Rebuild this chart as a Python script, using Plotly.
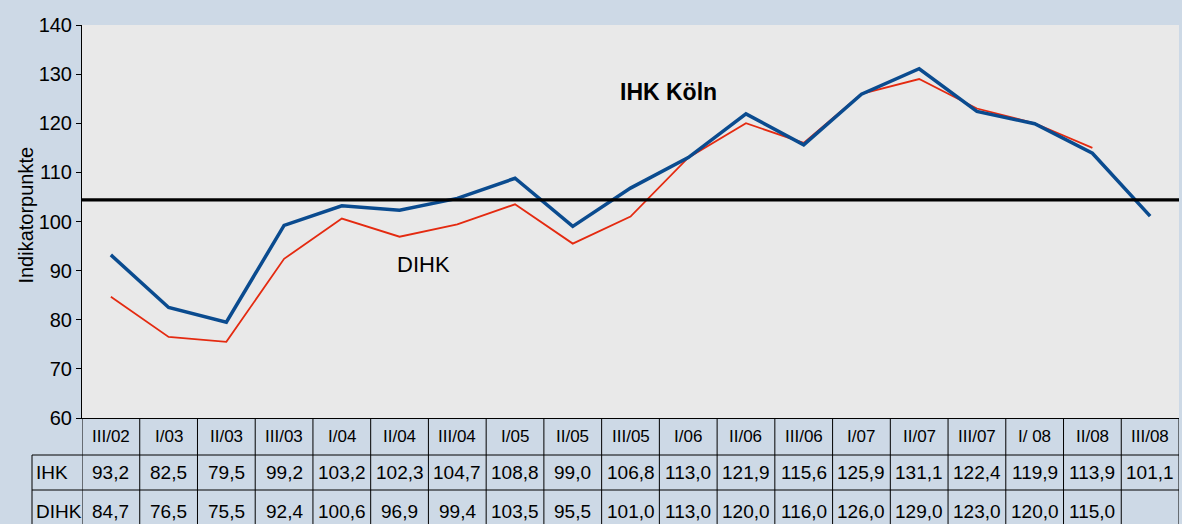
import plotly.graph_objects as go

categories = ["III/02", "I/03", "II/03", "III/03", "I/04", "II/04", "III/04", "I/05", "II/05",
              "III/05", "I/06", "II/06", "III/06", "I/07", "II/07", "III/07", "I/ 08", "II/08", "III/08"]
ihk = [93.2, 82.5, 79.5, 99.2, 103.2, 102.3, 104.7, 108.8, 99.0, 106.8, 113.0, 121.9, 115.6,
       125.9, 131.1, 122.4, 119.9, 113.9, 101.1]
dihk = [84.7, 76.5, 75.5, 92.4, 100.6, 96.9, 99.4, 103.5, 95.5, 101.0, 113.0, 120.0, 116.0,
        126.0, 129.0, 123.0, 120.0, 115.0, None]
reference_level = 104.4
row_labels = ["IHK", "DIHK"]

W, H = 1182, 524
L, R, T, B = 82, 3, 25, 106
PH = H - T - B
PW = W - L - R
BG = "#cdd9e6"
PLOT_BG = "#e9e9e9"
FONT = "Liberation Sans, Arial, sans-serif"

def py(pix):  # pixel y -> paper y
    return (H - B - pix) / PH

def px(pix):
    return (pix - L) / PW

n = len(categories)
xs = list(range(n))

fig = go.Figure()
fig.add_trace(go.Scatter(x=xs, y=dihk, mode="lines", line=dict(color="#e42a10", width=1.8),
                         name="DIHK", connectgaps=False, hoverinfo="skip"))
fig.add_trace(go.Scatter(x=xs, y=ihk, mode="lines", line=dict(color="#0a4b8f", width=3.5),
                         name="IHK", hoverinfo="skip"))

shapes = []
shapes.append(dict(type="line", xref="paper", yref="y", x0=0, x1=1, y0=reference_level,
                   y1=reference_level, line=dict(color="black", width=3.2), layer="above"))

row_cat = (py(418), py(455))
row_ihk = (py(455), py(490))
row_dihk = (py(490), py(532))
line_style = dict(color="black", width=1)
for yy in (row_ihk[0], row_ihk[1]):
    shapes.append(dict(type="line", xref="paper", yref="paper", x0=px(32), x1=1, y0=yy, y1=yy, line=line_style))
shapes.append(dict(type="line", xref="paper", yref="paper", x0=px(32), x1=px(32), y0=row_ihk[0], y1=row_dihk[1],
                   line=line_style))
for i in range(n + 1):
    shapes.append(dict(type="line", xref="x", yref="paper", x0=i - 0.5, x1=i - 0.5, y0=0, y1=row_dihk[1],
                       line=line_style))

annotations = []
tfont = dict(family=FONT, size=19, color="black")
def fmt(v):
    return "" if v is None else f"{v:.1f}".replace(".", ",")

def ann(**kw):
    base = dict(showarrow=False, xanchor="center", yanchor="middle")
    base.update(kw)
    annotations.append(base)

for i, c in enumerate(categories):
    ann(x=i, y=sum(row_cat) / 2, xref="x", yref="paper", text=c, font=dict(family=FONT, size=17, color="black"))
    ann(x=i, y=sum(row_ihk) / 2, xref="x", yref="paper", text=fmt(ihk[i]), font=tfont)
    ann(x=i, y=sum(row_dihk) / 2, xref="x", yref="paper", text=fmt(dihk[i]), font=tfont)
for lbl, row in zip(row_labels, (row_ihk, row_dihk)):
    ann(x=px(34), y=sum(row) / 2, xref="paper", yref="paper", text=lbl, xanchor="left", font=tfont)

ann(x=9.65, y=126.4, xref="x", yref="y", text="<b>IHK Köln</b>", font=dict(family=FONT, size=23, color="black"))
ann(x=5.42, y=91.3, xref="x", yref="y", text="DIHK", font=dict(family=FONT, size=22, color="black"))
ann(x=px(26), y=0.515, xref="paper", yref="paper", text="Indikatorpunkte", textangle=-90,
    font=dict(family=FONT, size=20, color="black"))

fig.update_layout(
    width=W, height=H,
    margin=dict(l=L, r=R, t=T, b=B, pad=0),
    paper_bgcolor=BG, plot_bgcolor=PLOT_BG,
    showlegend=False,
    shapes=shapes, annotations=annotations,
    font=dict(family=FONT, color="black"),
    xaxis=dict(range=[-0.5, n - 0.5], showticklabels=False, showgrid=False, zeroline=False,
               showline=True, linecolor="black", linewidth=1, ticks="", fixedrange=True),
    yaxis=dict(range=[60, 140], dtick=10, showgrid=False, zeroline=False, showline=True,
               linecolor="black", linewidth=1, ticks="outside", ticklen=5, tickcolor="black",
               tickfont=dict(family=FONT, size=20, color="black"), fixedrange=True),
)

fig.write_html("out.html", config={"displayModeBar": False},
               post_script="document.body.style.margin='0';document.body.style.overflow='hidden';")
